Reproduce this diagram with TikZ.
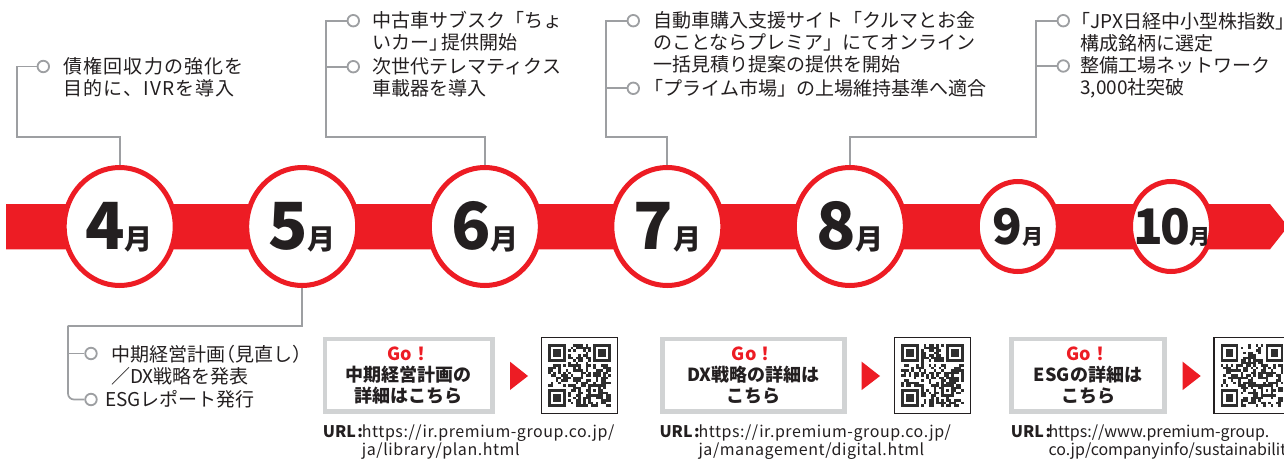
\documentclass[tikz,border=0pt]{standalone}
\usepackage{fontspec}
\setmainfont{Noto Sans CJK JP}
\usetikzlibrary{shapes.geometric}
\definecolor{brandred}{HTML}{ED1C24}
\definecolor{ink}{HTML}{231F20}
\definecolor{linegray}{HTML}{9D9FA2}
\definecolor{boxgray}{HTML}{D1D3D4}
\definecolor{qrink}{HTML}{2E2E2E}
\newcommand\qrpattern[3]{%
  \pgfmathsetseed{#3}%
  \foreach \qi in {0,...,24}{%
    \foreach \qj in {0,...,24}{%
      \pgfmathrandominteger{\qrbit}{0}{1}%
      \ifnum\qrbit=1 \fill[qrink] ({#1+\qi*2.5},{#2+\qj*2.5}) rectangle ++(2.5,2.5);\fi
    }%
  }%
  \foreach \fx/\fy/\wx/\wy in {0/0/0/0,18/0/17/0,0/18/0/17}{%
    \fill[white] ({#1+\wx*2.5},{#2+\wy*2.5}) rectangle ++(20,20);
    \fill[qrink] ({#1+\fx*2.5},{#2+\fy*2.5}) rectangle ++(17.5,17.5);
    \fill[white] ({#1+\fx*2.5+2.5},{#2+\fy*2.5+2.5}) rectangle ++(12.5,12.5);
    \fill[qrink] ({#1+\fx*2.5+5},{#2+\fy*2.5+5}) rectangle ++(7.5,7.5);
  }%
  \fill[qrink] ({#1+16*2.5},{#2+16*2.5}) rectangle ++(12.5,12.5);
  \fill[white] ({#1+17*2.5},{#2+17*2.5}) rectangle ++(7.5,7.5);
  \fill[qrink] ({#1+18*2.5},{#2+18*2.5}) rectangle ++(2.5,2.5);
}
\tikzset{
  conn/.style={draw=linegray, line width=1.7pt},
  marker/.style={circle, draw=linegray, fill=white, line width=1.8pt, minimum size=11.5pt, inner sep=0pt},
  monthbig/.style={ellipse, draw=brandred, fill=white, line width=5pt, minimum width=111pt, minimum height=118pt, inner sep=0pt},
  monthsmall/.style={ellipse, draw=brandred, fill=white, line width=5pt, minimum width=81pt, minimum height=90pt, inner sep=0pt},
  bignum/.style={anchor=base, inner sep=0pt, text=ink, font=\fontsize{65}{65}\selectfont\bfseries},
  smallnum/.style={anchor=base, inner sep=0pt, text=ink, font=\fontsize{49}{49}\selectfont\bfseries},
  item/.style={anchor=base west, inner sep=0pt, text=ink, align=left, font=\fontsize{19}{22}\selectfont},
  itemwide/.style={item, font=\fontsize{19}{22}\selectfont\addfontfeature{LetterSpace=6}},
  gobox/.style={draw=boxgray, line width=4.5pt, fill=white, align=center, text=ink, minimum height=72.7pt, inner sep=0pt, font=\fontsize{18}{21}\selectfont\bfseries},
  qrbox/.style={draw=ink, line width=1.1pt, fill=white, minimum width=76pt, minimum height=76pt, inner sep=0pt},
  urllabel/.style={anchor=base west, inner sep=0pt, text=ink, font=\fontsize{16}{18}\selectfont\bfseries},
  urltext/.style={anchor=base west, inner sep=0pt, text=ink, align=left, font=\fontsize{16}{18}\selectfont\addfontfeature{LetterSpace=3.5}},
  urltextnarrow/.style={urltext, font=\fontsize{16}{18}\selectfont},
  pointer/.style={fill=brandred},
}
\begin{document}
\begin{tikzpicture}[x=1pt,y=-1pt]
\clip (0,0) rectangle (1284,460);
\fill[white] (0,0) rectangle (1284,460);
% timeline band with arrow head
\fill[brandred] (6,204) -- (1270,204) -- (1288,226.5) -- (1270,249.3) -- (6,249.3) -- cycle;

% month circles
\node[monthbig] (m4) at (119.7,226.5) {};
\node[monthbig] (m5) at (302.2,226.5) {};
\node[monthbig] (m6) at (484.8,226.5) {};
\node[monthbig] (m7) at (667.3,226.5) {};
\node[monthbig] (m8) at (849.8,226.5) {};
\node[monthsmall] (m9) at (1017.8,226.5) {};
\node[monthsmall] (m10) at (1171,226.5) {};

\node[bignum] (n4) at (119,249.3) {4{\fontsize{28}{28}\selectfont 月}};
\node[bignum] (n5) at (302.2,249.3) {5{\fontsize{28}{28}\selectfont 月}};
\node[bignum] (n6) at (484.8,249.3) {6{\fontsize{28}{28}\selectfont 月}};
\node[bignum] (n7) at (667.3,249.3) {7{\fontsize{28}{28}\selectfont 月}};
\node[bignum] (n8) at (849.8,249.3) {8{\fontsize{28}{28}\selectfont 月}};
\node[smallnum] (n9) at (1017.8,244.3) {9{\fontsize{21}{21}\selectfont 月}};
\node[smallnum] (n10) at (1172,244.3) {1\kern-3pt0\kern-1pt{\fontsize{21}{21}\selectfont 月}};

% markers
\node[marker] (k4) at (43.3,66.5) {};
\node[marker] (k6a) at (353.3,20.7) {};
\node[marker] (k6b) at (353.3,66.7) {};
\node[marker] (k7a) at (633.3,20.7) {};
\node[marker] (k7b) at (633.3,88.3) {};
\node[marker] (k8a) at (1063.3,20.7) {};
\node[marker] (k8b) at (1063.3,66) {};
\node[marker] (k5a) at (91,353.5) {};
\node[marker] (k5b) at (91,399.5) {};

\coordinate (c4) at (17.3,137.3);
\coordinate (c6) at (325.7,136.7);
\coordinate (c7) at (605.7,136.7);
\coordinate (c8) at (1036,136.7);
\coordinate (c5) at (68,325.7);

% connectors
\draw[conn] (m4.north) |- (c4) |- (k4.west);
\draw[conn] (m6.north) |- (c6) |- (k6a.west);
\draw[conn] (c6 |- k6b.west) -- (k6b.west);
\draw[conn] (m7.north) |- (c7) |- (k7a.west);
\draw[conn] (c7 |- k7b.west) -- (k7b.west);
\draw[conn] (m8.north) |- (c8) |- (k8a.west);
\draw[conn] (c8 |- k8b.west) -- (k8b.west);
\draw[conn] (m5.south) |- (c5);
\draw[conn, rounded corners=6pt] (c5) |- (k5b.west);
\draw[conn] (c5 |- k5a.west) -- (k5a.west);

% event texts (anchor = baseline of the last line)
\node[itemwide] (t4) at (63.3,95.7) {債権回収力の強化を\\目的に、IVRを導入};
\node[item] (t6a) at (372.7,49.9) {中古車サブスク「ちょ\\いカー」\kern-0.4em提供開始};
\node[item] (t6b) at (372.7,95.5) {次世代テレマティクス\\車載器を導入};
\node[item] (t7a) at (653.3,71.5) {自動車購入支援サイト「クルマとお金\\のことならプレミア」にてオンライン\\一括見積り提案の提供を開始};
\node[item] (t7b) at (653.3,95.5) {\kern-0.45em「プライム市場」の上場維持基準へ適合};
\node[item] (t8a) at (1080,50.5) {\kern-0.45em「JPX日経中小型株指数」\\構成銘柄に選定};
\node[item] (t8b) at (1080,94.5) {整備工場ネットワーク\\3,000社突破};
\node[item] (t5a) at (111,383.7) {中期経営計画\kern-0.45em（見直し）\\／DX戦略を発表};
\node[item] (t5b) at (105,406.7) {ESGレポート発行};

% Go boxes
\node[gobox, minimum width=167.7pt] (g1) at (408.8,375.3) {{\color{brandred}Go！}\\中期経営計画の\\詳細はこちら};
\node[gobox, minimum width=182pt] (g2) at (753.3,375.3) {{\color{brandred}Go！}\\DX戦略の詳細は\\こちら};
\node[gobox, minimum width=152.7pt] (g3) at (1088,375.3) {{\color{brandred}Go！}\\ESGの詳細は\\こちら};

\fill[pointer] (510,361.7) -- (528,376) -- (510,390) -- cycle;
\fill[pointer] (861.7,361.7) -- (880,376) -- (861.7,390) -- cycle;
\fill[pointer] (1182.7,361.7) -- (1200.7,376) -- (1182.7,390) -- cycle;

\node[qrbox] (q1) at (579.5,375.3) {};
\node[qrbox] (q2) at (932.5,375.3) {};
\node[qrbox] (q3) at (1252,375.3) {};
\qrpattern{548.25}{344.05}{11}
\qrpattern{901.25}{344.05}{23}
\qrpattern{1220.75}{344.05}{37}

% URLs
\node[urllabel] (ul1) at (322.7,437) {URL\kern1.5pt:};
\node[urltext] (uu1) at (361.7,455) {https://ir.premium-group.co.jp/\\ja/library/plan.html};
\node[urllabel] (ul2) at (659.3,437) {URL\kern1.5pt:};
\node[urltext] (uu2) at (698.3,455) {https://ir.premium-group.co.jp/\\ja/management/digital.html};
\node[urllabel] (ul3) at (1010.7,437) {URL\kern1.5pt:};
\node[urltextnarrow] (uu3) at (1048.3,455) {https://www.premium-group.\\co.jp/companyinfo/sustainability};
\end{tikzpicture}
\end{document}
